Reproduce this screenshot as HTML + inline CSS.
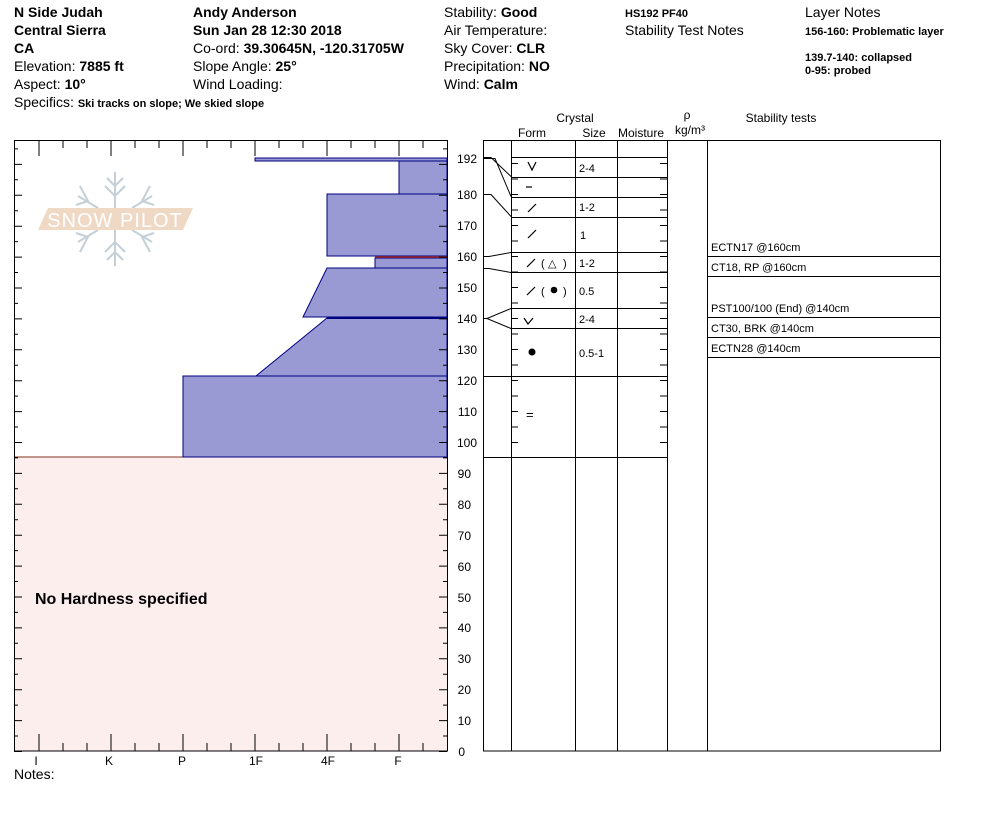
<!DOCTYPE html>
<html><head><meta charset="utf-8"><style>
html,body{margin:0;padding:0;background:#fff;}
svg{display:block;font-family:"Liberation Sans",sans-serif;}
</style></head><body>
<svg width="994" height="840" viewBox="0 0 994 840" xmlns="http://www.w3.org/2000/svg">
<g font-size="14" fill="#000">
<text x="14" y="17" font-weight="bold">N Side Judah</text>
<text x="14" y="35" font-weight="bold">Central Sierra</text>
<text x="14" y="53" font-weight="bold">CA</text>
<text x="14" y="71">Elevation: <tspan font-weight="bold">7885 ft</tspan></text>
<text x="14" y="89">Aspect: <tspan font-weight="bold">10°</tspan></text>
<text x="14" y="107">Specifics: <tspan font-size="11" font-weight="bold">Ski tracks on slope; We skied slope</tspan></text>
<text x="193" y="17" font-weight="bold">Andy Anderson</text>
<text x="193" y="35" font-weight="bold">Sun Jan 28 12:30 2018</text>
<text x="193" y="53">Co-ord: <tspan font-weight="bold">39.30645N, -120.31705W</tspan></text>
<text x="193" y="71">Slope Angle: <tspan font-weight="bold">25°</tspan></text>
<text x="193" y="89">Wind Loading:</text>
<text x="444" y="17">Stability: <tspan font-weight="bold">Good</tspan></text>
<text x="444" y="35">Air Temperature:</text>
<text x="444" y="53">Sky Cover: <tspan font-weight="bold">CLR</tspan></text>
<text x="444" y="71">Precipitation: <tspan font-weight="bold">NO</tspan></text>
<text x="444" y="89">Wind:  <tspan font-weight="bold">Calm</tspan></text>
<text x="625" y="17" font-size="11" font-weight="bold">HS192 PF40</text>
<text x="625" y="35">Stability Test Notes</text>
<text x="805" y="17">Layer Notes</text>
<text x="805" y="35" font-size="11" font-weight="bold">156-160: Problematic layer</text>
<text x="805" y="61" font-size="11" font-weight="bold">139.7-140: collapsed</text>
<text x="805" y="74" font-size="11" font-weight="bold">0-95: probed</text>
</g>
<rect x="14" y="457" width="433" height="294" fill="#fdeeee"/>
<line x1="14" y1="457" x2="447" y2="457" stroke="#803020" stroke-width="1"/>
<line x1="14.5" y1="457" x2="14.5" y2="751" stroke="#803020"/>
<text x="35" y="604" font-size="16" font-weight="bold">No Hardness specified</text>
<g>
<g stroke="#c4cfd6" stroke-width="2" fill="none">
<line x1="115" y1="172" x2="115" y2="266"/>
<polyline points="107,178 115,186 123,178"/><polyline points="105,186 115,196 125,186"/>
<polyline points="107,260 115,252 123,260"/><polyline points="105,252 115,242 125,252"/>
<line x1="78" y1="196" x2="98" y2="208"/><line x1="152" y1="196" x2="132" y2="208"/>
<line x1="78" y1="242" x2="98" y2="230"/><line x1="152" y1="242" x2="132" y2="230"/>
<polyline points="80,186 88,201 76,205"/><polyline points="150,186 142,201 154,205"/>
<polyline points="80,252 88,237 76,233"/><polyline points="150,252 142,237 154,233"/>
</g>
<polygon points="38,230 48,208 193,208 183,230" fill="#efd8c4"/>
<text x="115" y="227" font-size="20" fill="#fff" text-anchor="middle" letter-spacing="1">SNOW PILOT</text>
</g>
<g fill="#9999d4" stroke="#000080" stroke-width="1">
<rect x="255" y="158" width="192" height="3"/>
<rect x="399" y="161" width="48" height="33"/>
<rect x="327" y="194" width="120" height="62"/>
<rect x="375" y="258" width="72" height="10"/>
<polygon points="327,268 447,268 447,317 303,317"/>
<polygon points="327,318 447,318 447,376 256,376"/>
<rect x="183" y="376" width="264" height="81"/>
</g>
<line x1="375" y1="257" x2="447" y2="257" stroke="#802040" stroke-width="2"/>
<line x1="327" y1="318" x2="447" y2="318" stroke="#000080" stroke-width="2"/>
<rect x="14.5" y="140.5" width="433" height="610.5" fill="none" stroke="#000"/>
<g stroke="#000" stroke-width="1">
<path d="M39,140v16M111,140v16M183,140v16M255,140v16M327,140v16M399,140v16
M63,140v8M87,140v8M135,140v8M159,140v8M207,140v8M231,140v8M279,140v8M303,140v8M351,140v8M375,140v8M423,140v8
M39,751v-17M111,751v-17M183,751v-17M255,751v-17M327,751v-17M399,751v-17
M63,751v-8M87,751v-8M135,751v-8M159,751v-8M207,751v-8M231,751v-8M279,751v-8M303,751v-8M351,751v-8M375,751v-8M423,751v-8"/>
<path id="yt" d="
M14,751.5h8M14,736h4M14,720.6h8M14,705.1h4M14,689.7h8M14,674.2h4M14,658.8h8M14,643.3h4M14,627.9h8M14,612.4h4M14,597h8M14,581.5h4M14,566.1h8M14,550.6h4M14,535.2h8M14,519.7h4M14,504.3h8M14,488.8h4M14,473.4h8M14,457.9h4M14,442.5h8M14,427h4M14,411.6h8M14,396.1h4M14,380.7h8M14,365.2h4M14,349.8h8M14,334.3h4M14,318.9h8M14,303.4h4M14,288h8M14,272.5h4M14,257.1h8M14,241.6h4M14,226.2h8M14,210.7h4M14,195.3h8M14,179.8h4M14,164.4h8M14,148.9h4"/>
<use href="#yt" transform="translate(461,0) scale(-1,1)"/>
</g>
<g font-size="12" text-anchor="middle">
<text x="36" y="765">I</text><text x="109" y="765">K</text><text x="182" y="765">P</text>
<text x="256" y="765">1F</text><text x="328" y="765">4F</text><text x="398" y="765">F</text>
</g>
<text x="14" y="779" font-size="14">Notes:</text>
<g font-size="12" text-anchor="end">
<text x="477" y="163">192</text><text x="477" y="199">180</text><text x="477" y="230">170</text>
<text x="477" y="261">160</text><text x="477" y="292">150</text><text x="477" y="323">140</text>
<text x="477" y="354">130</text><text x="477" y="385">120</text><text x="477" y="416">110</text>
<text x="477" y="447">100</text><text x="471" y="478">90</text><text x="471" y="509">80</text>
<text x="471" y="540">70</text><text x="471" y="571">60</text><text x="471" y="602">50</text>
<text x="471" y="632">40</text><text x="471" y="663">30</text><text x="471" y="694">20</text>
<text x="471" y="725">10</text><text x="465" y="756">0</text>
</g>
<g font-size="12" text-anchor="middle">
<text x="575" y="122">Crystal</text>
<text x="532" y="137">Form</text><text x="594" y="137">Size</text><text x="641" y="137">Moisture</text>
<text x="687" y="119">ρ</text><text x="690" y="134">kg/m³</text>
<text x="781" y="122">Stability tests</text>
</g>
<g stroke="#000" fill="none">
<rect x="483.5" y="140.5" width="457" height="610.5"/>
<path d="M511.5,140v611M575.5,140v611M617.5,140v611M667.5,140v611M707.5,140v611"/>
<path d="M511,157.5h156M511,177.5h156M511,197.5h156M511,217.5h156M511,252.5h156M511,272.5h156M511,308.5h156M511,328.5h156M483,376.5h184M483,457.5h184"/>
<path d="M707,256.5h234M707,276.5h234M707,317.5h234M707,337.5h234M707,357.5h234"/>
<path d="M483,157.5h8l20,19M483,158.5h12l16,38M483,194.5h8l20,22M483,256.5h6l22,-4M483,268.5h6l22,4M483,318.5h4l24,-10M483,318.5h4l24,10"/>
<path d="M511,163.5h7M511,179h7M511,194.5h7M511,210h7M511,225.5h7M511,241h7M511,256.5h7M511,272h7M511,287.5h7M511,303h7M511,318.5h7M511,334h7M511,349.5h7M511,365h7M511,380.5h7M511,396h7M511,411.5h7M511,427h7M511,442.5h7
M660,163.5h7M660,179h7M660,194.5h7M660,210h7M660,225.5h7M660,241h7M660,256.5h7M660,272h7M660,287.5h7M660,303h7M660,318.5h7M660,334h7M660,349.5h7M660,365h7M660,380.5h7M660,396h7M660,411.5h7M660,427h7M660,442.5h7"/>
</g>
<!-- form symbols -->
<g stroke="#000" stroke-width="1.2" fill="none">
<polyline points="528,162 532,170 536,162"/>
<line x1="526" y1="187" x2="532" y2="187"/>
<line x1="528" y1="212" x2="536" y2="204"/>
<line x1="528" y1="238" x2="536" y2="230"/>
<line x1="527" y1="267" x2="535" y2="259"/>
<line x1="527" y1="295" x2="535" y2="287"/>
<polyline points="524,318 528,324 533,318"/>
</g>
<circle cx="532" cy="352" r="3.5"/>
<circle cx="554" cy="290" r="3.3"/>
<g font-size="11">
<text x="541" y="267">(</text><text x="563" y="267">)</text>
<text x="548" y="267">△</text>
<text x="541" y="295">(</text><text x="563" y="295">)</text>
<text x="526" y="419" font-size="13">=</text>
<text x="579" y="172">2-4</text><text x="579" y="211">1-2</text><text x="580" y="239">1</text>
<text x="579" y="267">1-2</text><text x="579" y="295">0.5</text><text x="579" y="323">2-4</text>
<text x="579" y="357">0.5-1</text>
<text x="711" y="251">ECTN17 @160cm</text>
<text x="711" y="271">CT18, RP @160cm</text>
<text x="711" y="312">PST100/100 (End) @140cm</text>
<text x="711" y="332">CT30, BRK @140cm</text>
<text x="711" y="352">ECTN28 @140cm</text>
</g>
</svg>
</body></html>
